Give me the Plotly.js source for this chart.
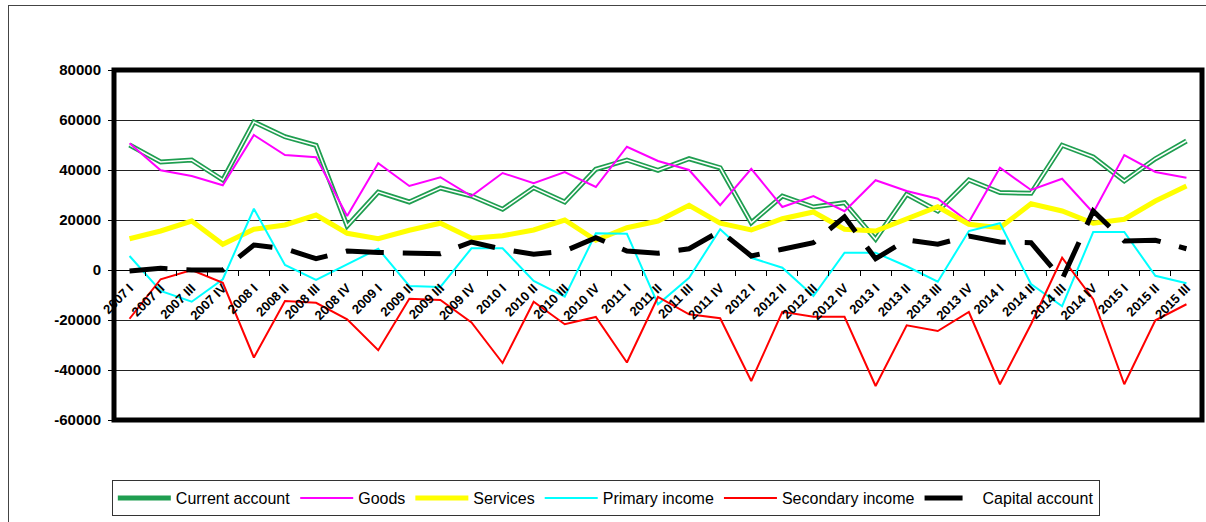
<!DOCTYPE html>
<html>
<head>
<meta charset="utf-8">
<script src="https://cdn.plot.ly/plotly-3.0.1.min.js"></script>
<style>
  html, body { margin: 0; padding: 0; background: #fff; overflow: hidden; }
  #frame { position: absolute; left: 8px; top: 5px; width: 1400px; height: 700px; border: 1px solid #444; }
  #chart { position: absolute; left: 0; top: 0; width: 1206px; height: 522px; }
</style>
</head>
<body>
<div id="frame"></div>
<div id="chart"></div>
<script>
const categories = [
  "2007 I","2007 II","2007 III","2007 IV",
  "2008 I","2008 II","2008 III","2008 IV",
  "2009 I","2009 II","2009 III","2009 IV",
  "2010 I","2010 II","2010 III","2010 IV",
  "2011 I","2011 II","2011 III","2011 IV",
  "2012 I","2012 II","2012 III","2012 IV",
  "2013 I","2013 II","2013 III","2013 IV",
  "2014 I","2014 II","2014 III","2014 IV",
  "2015 I","2015 II","2015 III"
];
const currentAccount = [
  50000, 43200, 44000, 36000,
  59200, 53300, 49900, 17600,
  31200, 27200, 32800, 29600,
  24300, 32900, 27200, 40300,
  44000, 39900, 44500, 40900,
  18900, 29600, 25200, 26900,
  12300, 30300, 23600, 36000,
  31000, 30700, 49900, 45200,
  35600, 44500, 51600
];
const goods = [
  50700, 39900, 37600, 33900,
  54000, 46000, 45100, 21600,
  42700, 33600, 37100, 29600,
  38800, 34700, 39200, 33200,
  49300, 43600, 40000, 25900,
  40500, 25200, 29600, 23500,
  35900, 31600, 28500, 19200,
  40900, 32000, 36500, 22900,
  46000, 39200, 36900
];
const services = [
  12500, 15600, 19600, 10300,
  16300, 18000, 22000, 14700,
  12500, 15900, 18700, 12700,
  13700, 16000, 20000, 11900,
  16900, 19600, 25900, 18700,
  16000, 20500, 23200, 16300,
  15600, 20300, 25300, 18300,
  16900, 26500, 23600, 18700,
  20300, 27600, 33600
];
const primaryIncome = [
  5600, -8400, -12700, -3700,
  24500, 2000, -4000, 2300,
  8500, -6400, -6800, 8700,
  8700, -4400, -10700, 14700,
  14500, -13700, -3100, 16300,
  4900, 900, -10400, 6900,
  6900, 1500, -4700, 15600,
  18700, -5600, -14500, 15200,
  15200, -2300, -5300
];
const secondaryIncome = [
  -19500, -3700, 0, -5100,
  -35000, -12400, -13100, -19700,
  -32100, -11500, -12000, -21000,
  -37200, -12700, -21700, -18800,
  -37000, -10800, -17700, -19300,
  -44400, -16700, -18700, -18700,
  -46400, -22100, -24400, -16800,
  -45700, -21700, 4900, -11700,
  -45700, -20100, -13700
];
const capitalAccount = [
  -400, 700, 0, 0,
  10000, 8500, 4500, 7600,
  7000, 7000, 6500, 11200,
  8300, 6300, 7600, 12900,
  7600, 6700, 8500, 15600,
  5600, 8300, 10900, 21300,
  4500, 12000, 10300, 13600,
  11200, 10900, -3700, 23600,
  11600, 11900, 8500
];
const yTicks = [-60000, -40000, -20000, 0, 20000, 40000, 60000, 80000];

const traces = [
  {x: categories, y: currentAccount, name: "Current account", type: "scatter", mode: "lines",
   line: {color: "#1f9e50", width: 5}},
  {x: categories, y: currentAccount, name: "Current account", type: "scatter", mode: "lines",
   line: {color: "#ffffff", width: 1.5}, showlegend: false, hoverinfo: "skip"},
  {x: categories, y: goods, name: "Goods", type: "scatter", mode: "lines",
   line: {color: "#ff00ff", width: 2}},
  {x: categories, y: services, name: "Services", type: "scatter", mode: "lines",
   line: {color: "#ffff00", width: 5}},
  {x: categories, y: primaryIncome, name: "Primary income", type: "scatter", mode: "lines",
   line: {color: "#00ffff", width: 2}},
  {x: categories, y: secondaryIncome, name: "Secondary income", type: "scatter", mode: "lines",
   line: {color: "#ff0000", width: 2}},
  {x: categories, y: capitalAccount, name: "Capital account", type: "scatter", mode: "lines",
   line: {color: "#000000", width: 5, dash: "38px,19px"}}
];

const layout = {
  width: 1206, height: 522,
  margin: {l: 114, r: 4, t: 70, b: 102, pad: 0},
  paper_bgcolor: "rgba(0,0,0,0)",
  plot_bgcolor: "rgba(0,0,0,0)",
  font: {family: "Arial, Liberation Sans, sans-serif", color: "#000"},
  showlegend: true,
  legend: {
    orientation: "h", x: -0.002, xanchor: "left", y: -0.172, yanchor: "top",
    bordercolor: "#333", borderwidth: 1, bgcolor: "#fff",
    font: {family: "Arial, Liberation Sans, sans-serif", size: 16, color: "#000"},
    itemwidth: 53, traceorder: "normal"
  },
  xaxis: {
    type: "category",
    range: [-0.5, 34.5],
    anchor: "free", position: 60000 / 140000,
    showgrid: false, showline: false, zeroline: false,
    ticks: "outside", ticklen: 5, tickcolor: "#000", tickwidth: 1,
    tickson: "boundaries",
    tickangle: -45,
    ticklabelstandoff: 7,
    tickfont: {family: "Arial, Liberation Sans, sans-serif", size: 13, color: "#000", weight: "bold"}
  },
  yaxis: {
    range: [-60000, 80000],
    tickvals: yTicks,
    ticktext: yTicks.map(String),
    showgrid: true, gridcolor: "#222", gridwidth: 1,
    zeroline: true, zerolinecolor: "#000", zerolinewidth: 1,
    showline: false,
    ticks: "outside", ticklen: 5, tickcolor: "#000", tickwidth: 1,
    ticklabelstandoff: 4,
    tickfont: {family: "Arial, Liberation Sans, sans-serif", size: 15, color: "#000", weight: "bold"}
  },
  shapes: [
    {type: "rect", xref: "paper", yref: "paper", x0: 0, x1: 1, y0: 0, y1: 1,
     line: {color: "#000", width: 5}, fillcolor: "rgba(0,0,0,0)", layer: "above"}
  ]
};

Plotly.newPlot("chart", traces, layout, {displayModeBar: false, staticPlot: true});
</script>
</body>
</html>
